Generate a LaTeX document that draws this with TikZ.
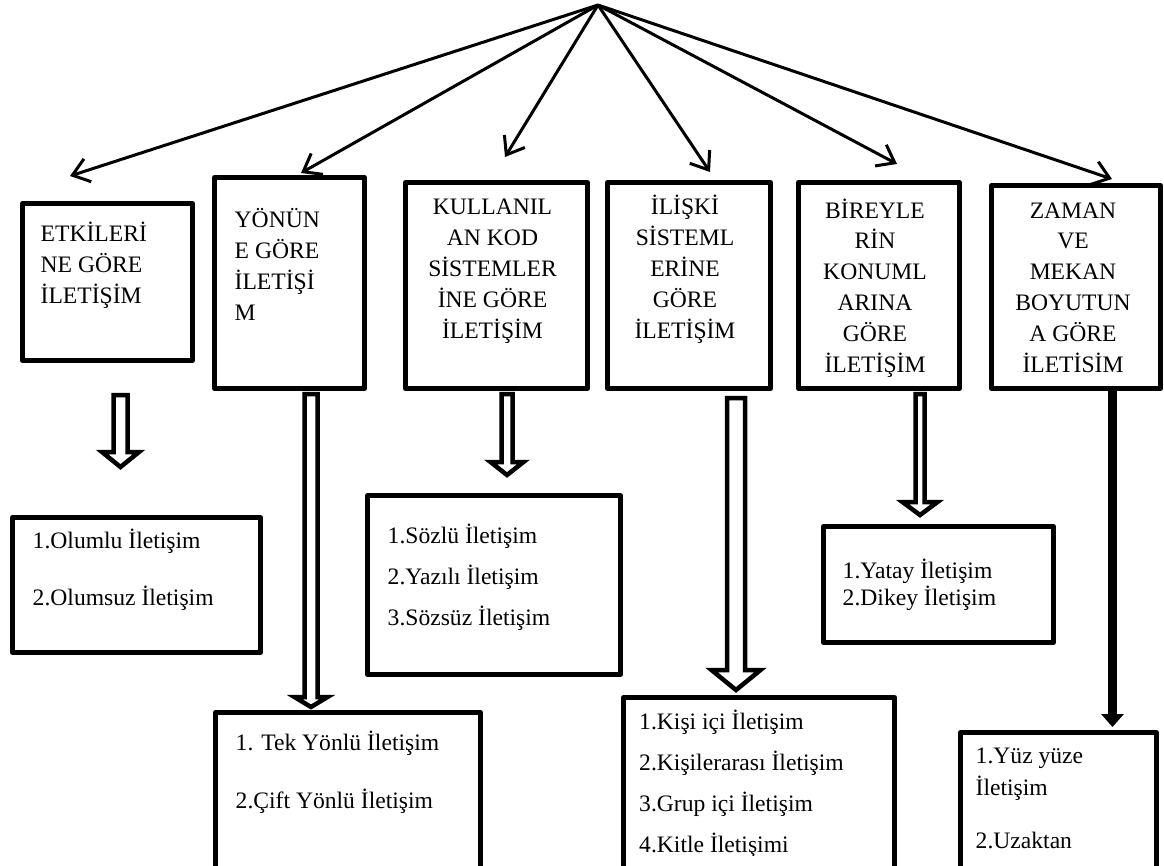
\documentclass[tikz,border=0pt]{standalone}
\usepackage{fontspec}
\setmainfont{Liberation Serif}
\usetikzlibrary{arrows.meta}
\usetikzlibrary{positioning}

\tikzset{
  kutu/.style={draw, line width=5pt, line join=round, inner sep=0pt},
  baslik/.style={inner sep=0pt, align=center,
    font=\fontsize{23.6pt}{30.8pt}\selectfont},
  liste/.style={inner sep=0pt, align=left,
    font=\fontsize{23.6pt}{#1}\selectfont},
  ok/.style={line width=3pt, -{Straight Barb[length=16pt, width=24pt]}},
  bosoklar/.style={draw, line width=4.5pt, fill=white, line join=miter},
  kalinok/.style={line width=9pt, -{Triangle[length=13pt, width=22pt]}, shorten >=3pt},
}

\newcommand{\bosok}[6]{%
  \draw[bosoklar] (#1-#5,#2) -- (#1-#5,#3) -- (#1-#6,#3) -- (#1,#4)
    -- (#1+#6,#3) -- (#1+#5,#3) -- (#1+#5,#2) -- cycle;}

\begin{document}
\begin{tikzpicture}[x=1pt, y=-1pt]
  \path[use as bounding box, fill=white] (0,0) rectangle (1164,865);

  \node[kutu, minimum width=170pt, minimum height=157pt] (etki) at (107.5,282) {};
  \node[kutu, minimum width=150pt, minimum height=211pt] (yon) at (289.5,283) {};
  \node[kutu, minimum width=182pt, minimum height=206pt] (kod) at (496.5,285.5) {};
  \node[kutu, minimum width=163pt, minimum height=206pt] (iliski) at (689,285.5) {};
  \node[kutu, minimum width=161pt, minimum height=206pt] (konum) at (879,285.5) {};
  \node[kutu, minimum width=169pt, minimum height=203pt] (zaman) at (1076,287) {};

  \node[baslik, align=left, below right=102.5pt and 20.5pt of etki.north west, anchor=base west] (etkiyazi)
    {ETKİLERİ\\NE GÖRE\\İLETİŞİM};
  \node[baslik, align=left, below right=145pt and 22.5pt of yon.north west, anchor=base west] (yonyazi)
    {YÖNÜN\\E GÖRE\\İLETİŞİ\\M};
  \node[baslik, below=158pt of kod.north, anchor=base, xshift=-4pt] (kodyazi)
    {KULLANIL\\AN KOD\\SİSTEMLER\\İNE GÖRE\\İLETİŞİM};
  \node[baslik, below=158pt of iliski.north, anchor=base, xshift=-4pt] (iliskiyazi)
    {İLİŞKİ\\SİSTEML\\ERİNE\\GÖRE\\İLETİŞİM};
  \node[baslik, below=192pt of konum.north, anchor=base, xshift=-4pt] (konumyazi)
    {BİREYLE\\RİN\\KONUML\\ARINA\\GÖRE\\İLETİŞİM};
  \node[baslik, below=189pt of zaman.north, anchor=base, xshift=-3pt] (zamanyazi)
    {ZAMAN\\VE\\MEKAN\\BOYUTUN\\A GÖRE\\İLETİSİM};

  \node[kutu, minimum width=248pt, minimum height=135pt] (olumlu) at (136.5,585) {};
  \node[kutu, minimum width=253pt, minimum height=179pt] (sozlu) at (494,585) {};
  \node[kutu, minimum width=230pt, minimum height=116pt] (yatay) at (938.5,584.5) {};
  \node[kutu, minimum width=265pt, minimum height=190pt] (tek) at (348,807.5) {};
  \node[kutu, minimum width=271pt, minimum height=205pt] (kisi) at (759,800) {};
  \node[kutu, minimum width=196pt, minimum height=170pt] (yuz) at (1058.5,817.5) {};

  \node[liste=57pt, below right=90pt and 22.5pt of olumlu.north west, anchor=base west] (olumluyazi)
    {1.Olumlu İletişim\\2.Olumsuz İletişim};
  \node[liste=41pt, below right=132pt and 22.5pt of sozlu.north west, anchor=base west] (sozluyazi)
    {1.Sözlü İletişim\\2.Yazılı İletişim\\3.Sözsüz İletişim};
  \node[liste=27pt, below right=81pt and 21.5pt of yatay.north west, anchor=base west] (yatayyazi)
    {1.Yatay İletişim\\2.Dikey İletişim};
  \node[liste=58pt, below right=98pt and 22.5pt of tek.north west, anchor=base west] (tekyazi)
    {1. Tek Yönlü İletişim\\2.Çift Yönlü İletişim};
  \begin{scope}
    \clip (0,0) rectangle (1164,855);
    \node[liste=40.7pt, below right=157pt and 18pt of kisi.north west, anchor=base west] (kisiyazi)
      {1.Kişi içi İletişim\\2.Kişilerarası İletişim\\3.Grup içi İletişim\\4.Kitle İletişimi};
  \end{scope}
  \begin{scope}
    \clip (0,0) rectangle (1164,848);
    \node[liste=32pt, below right=118pt and 17.5pt of yuz.north west, anchor=base west] (yuzyazi)
      {1.Yüz yüze\\İletişim\\[21pt]2.Uzaktan};
  \end{scope}

  \coordinate (tepe) at (598,5);
  \coordinate (u1) at (70,176);
  \coordinate (u2) at (301,173);
  \coordinate (u3) at (505,157);
  \coordinate (u4) at (710,172);
  \coordinate (u5) at (897,164);
  \coordinate (u6) at (1112,179);
  \foreach \u in {1,...,6}
    \draw[ok] (tepe) -- (u\u);

  \bosok{120.5}{395}{452}{467}{7}{18.5}
  \bosok{311}{394}{697}{707}{6.5}{16.5}
  \bosok{507}{394}{462}{475}{5.5}{16.5}
  \bosok{736}{398}{670}{690}{9}{24.5}
  \bosok{920}{394}{502}{515}{4.5}{17.5}

  \coordinate (zk) at ([xshift=36.5pt]zaman.south);
  \draw[kalinok] (zk) -- (zk |- yuz.north);
\end{tikzpicture}
\end{document}
